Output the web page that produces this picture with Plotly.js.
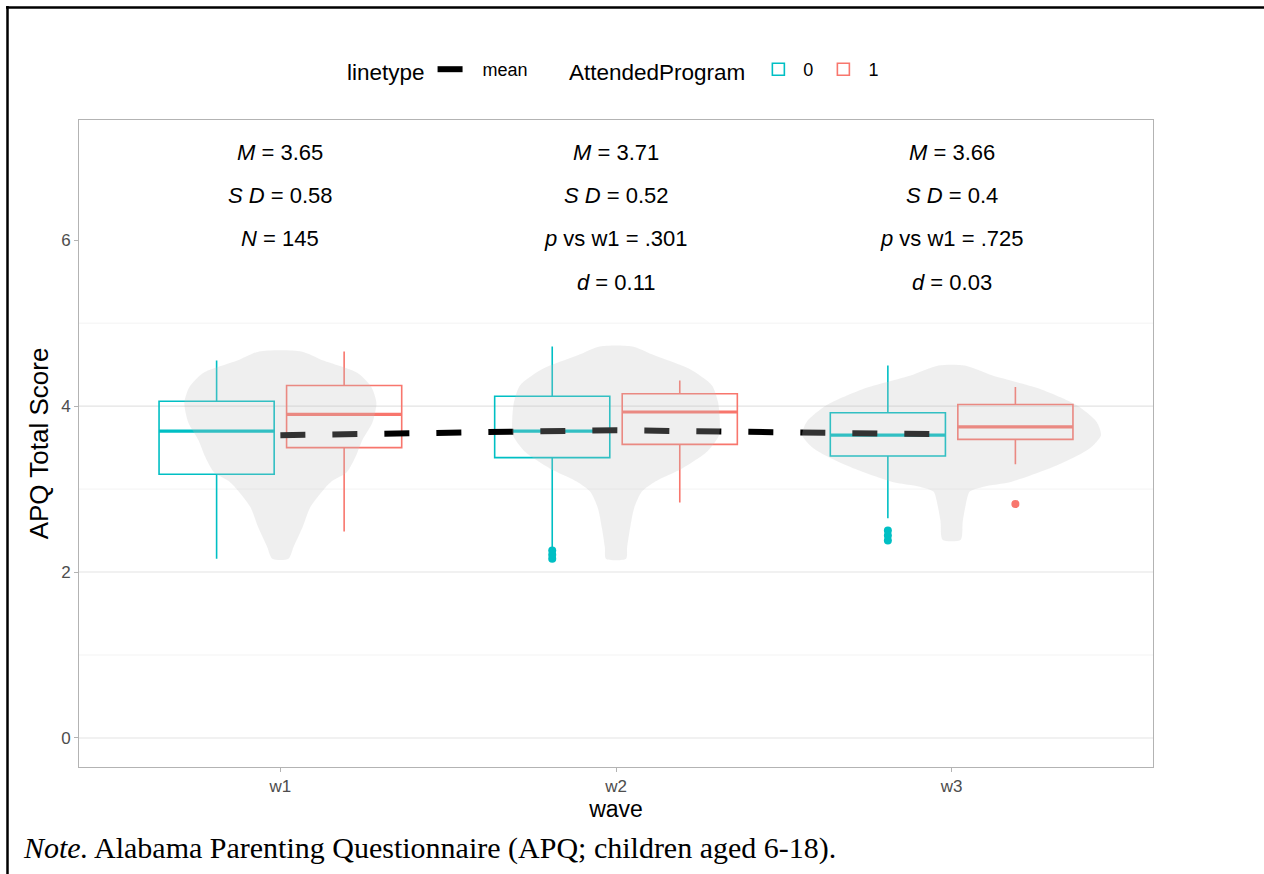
<!DOCTYPE html>
<html>
<head>
<meta charset="utf-8">
<script src="https://cdn.plot.ly/plotly-3.0.1.min.js"></script>
<style>
  html, body { margin: 0; padding: 0; background: #ffffff; }
  #chart { width: 1264px; height: 874px; }
</style>
</head>
<body>
<div id="chart"></div>
<script>
// ---------------- data ----------------
const waves = ['w1', 'w2', 'w3'];
const waveIndex = [1, 2, 3];
const groupNames = ['0', '1'];

// AttendedProgram = 0
const q1_g0     = [3.18, 3.38, 3.40];
const median_g0 = [3.70, 3.70, 3.65];
const q3_g0     = [4.06, 4.12, 3.92];
const lower_g0  = [2.16, 2.30, 2.65];
const upper_g0  = [4.55, 4.72, 4.49];
const outlierWave_g0 = [2, 2, 2, 3, 3, 3];
const outlierY_g0    = [2.26, 2.21, 2.16, 2.50, 2.44, 2.38];

// AttendedProgram = 1
const q1_g1     = [3.50, 3.54, 3.60];
const median_g1 = [3.90, 3.93, 3.75];
const q3_g1     = [4.25, 4.15, 4.02];
const lower_g1  = [2.49, 2.84, 3.30];
const upper_g1  = [4.66, 4.31, 4.23];
const outlierWave_g1 = [3];
const outlierY_g1    = [2.82];

// mean per wave
const means = [3.65, 3.71, 3.66];

// violin density profiles (score level, half-width in x units)
const violinY_w1 = [4.66, 4.55, 4.40, 4.23, 4.04, 3.80, 3.59, 3.39, 3.20, 3.10, 2.99, 2.78, 2.54, 2.30, 2.16];
const violinW_w1 = [0.063, 0.128, 0.230, 0.271, 0.286, 0.274, 0.244, 0.224, 0.197, 0.155, 0.128, 0.089, 0.066, 0.039, 0.024];
const violinY_w2 = [4.72, 4.61, 4.45, 4.25, 4.05, 3.85, 3.65, 3.45, 3.25, 3.09, 2.97, 2.77, 2.53, 2.29, 2.16];
const violinW_w2 = [0.048, 0.116, 0.218, 0.286, 0.304, 0.309, 0.307, 0.271, 0.197, 0.116, 0.077, 0.054, 0.042, 0.033, 0.030];
const violinY_w3 = [4.49, 4.37, 4.21, 4.01, 3.81, 3.65, 3.49, 3.29, 3.09, 3.03, 2.97, 2.81, 2.61, 2.39];
const violinW_w3 = [0.039, 0.122, 0.262, 0.373, 0.432, 0.445, 0.411, 0.316, 0.179, 0.095, 0.054, 0.042, 0.033, 0.027];

// annotation texts per wave
const statText_w1 = ['<i>M</i> = 3.65', '<i>S D</i> = 0.58', '<i>N</i> = 145'];
const statText_w2 = ['<i>M</i> = 3.71', '<i>S D</i> = 0.52', '<i>p</i> vs w1 = .301', '<i>d</i> = 0.11'];
const statText_w3 = ['<i>M</i> = 3.66', '<i>S D</i> = 0.4', '<i>p</i> vs w1 = .725', '<i>d</i> = 0.03'];
const statRowY = [7.06, 6.54, 6.02, 5.49];

const yTicks = [0, 2, 4, 6];
const majorGrid = [0, 2, 4];
const minorGrid = [1, 3, 5];

const noteText = '<i>Note.</i> Alabama Parenting Questionnaire (APQ; children aged 6-18).';

// ---------------- style ----------------
const COL0 = '#00BFC4';
const COL1 = '#F8766D';
const DODGE = 0.19;
const BOXW = 0.343;
const FONT = '"Liberation Sans", Arial, Helvetica, sans-serif';

const W = 1264, H = 874;
const M = { l: 79, r: 111, t: 120, b: 107 };
const pw = W - M.l - M.r, ph = H - M.t - M.b;
const px2x = p => (p - M.l) / pw;
const px2y = p => (H - M.b - p) / ph;

// ---------------- traces ----------------
const traces = [];

function boxTrace(name, color, offset, q1, med, q3, lo, hi) {
  return {
    type: 'box', name: name, legend: 'legend2',
    x: waveIndex.map(v => v + offset),
    q1: q1, median: med, q3: q3, lowerfence: lo, upperfence: hi,
    width: BOXW, whiskerwidth: 0, boxpoints: false,
    line: { color: color, width: 1.6 },
    fillcolor: 'rgba(255,255,255,0)',
    hoverinfo: 'skip'
  };
}
traces.push(boxTrace(groupNames[0], COL0, -DODGE, q1_g0, median_g0, q3_g0, lower_g0, upper_g0));
traces.push(boxTrace(groupNames[1], COL1, DODGE, q1_g1, median_g1, q3_g1, lower_g1, upper_g1));

// thicker median bars
function medianTrace(color, offset, med) {
  const xs = [], ys = [];
  waveIndex.forEach((w, i) => {
    xs.push(w + offset - BOXW / 2, w + offset + BOXW / 2, null);
    ys.push(med[i], med[i], null);
  });
  return { type: 'scatter', mode: 'lines', x: xs, y: ys, showlegend: false,
           line: { color: color, width: 3.2 }, hoverinfo: 'skip' };
}
traces.push(medianTrace(COL0, -DODGE, median_g0));
traces.push(medianTrace(COL1, DODGE, median_g1));

// outliers
traces.push({ type: 'scatter', mode: 'markers', showlegend: false, hoverinfo: 'skip',
  x: outlierWave_g0.map(v => v - DODGE), y: outlierY_g0,
  marker: { color: COL0, size: 8 } });
traces.push({ type: 'scatter', mode: 'markers', showlegend: false, hoverinfo: 'skip',
  x: outlierWave_g1.map(v => v + DODGE), y: outlierY_g1,
  marker: { color: COL1, size: 8 } });

// mean line
traces.push({ type: 'scatter', mode: 'lines', name: 'mean', legend: 'legend',
  x: waveIndex, y: means,
  line: { color: '#000000', width: 6, dash: '25px,27px' }, hoverinfo: 'skip' });

// violins (semi-transparent, on top)
function violinTrace(center, ys, ws) {
  const xs = [], yy = [];
  for (let i = 0; i < ys.length; i++) { xs.push(center + ws[i]); yy.push(ys[i]); }
  for (let i = ys.length - 1; i >= 0; i--) { xs.push(center - ws[i]); yy.push(ys[i]); }
  xs.push(xs[0]); yy.push(yy[0]);
  return { type: 'scatter', mode: 'lines', x: xs, y: yy, fill: 'toself',
    fillcolor: 'rgba(194,194,194,0.26)', line: { width: 0, shape: 'spline', smoothing: 0.7, color: 'rgba(0,0,0,0)' },
    showlegend: false, hoverinfo: 'skip' };
}
traces.push(violinTrace(waveIndex[0], violinY_w1, violinW_w1));
traces.push(violinTrace(waveIndex[1], violinY_w2, violinW_w2));
traces.push(violinTrace(waveIndex[2], violinY_w3, violinW_w3));

// ---------------- annotations ----------------
const annotations = [];
[statText_w1, statText_w2, statText_w3].forEach((arr, wi) => {
  arr.forEach((t, ri) => {
    annotations.push({ x: waveIndex[wi], y: statRowY[ri], xref: 'x', yref: 'y', text: t,
      showarrow: false, font: { family: FONT, size: 22, color: '#000000' } });
  });
});
annotations.push({ xref: 'paper', yref: 'paper', x: px2x(21), y: px2y(848), xanchor: 'left', yanchor: 'middle',
  text: noteText, showarrow: false,
  font: { family: '"Liberation Serif", "Times New Roman", serif', size: 30, color: '#000000' } });

// ---------------- shapes ----------------
const shapes = [];
majorGrid.forEach(v => shapes.push({ type: 'line', xref: 'paper', yref: 'y', x0: 0, x1: 1, y0: v, y1: v,
  layer: 'below', line: { color: '#E3E3E3', width: 1.1 } }));
minorGrid.forEach(v => shapes.push({ type: 'line', xref: 'paper', yref: 'y', x0: 0, x1: 1, y0: v, y1: v,
  layer: 'below', line: { color: '#F0F0F0', width: 0.8 } }));
// outer frame (top and left)
shapes.push({ type: 'line', xref: 'paper', yref: 'paper', x0: px2x(6), x1: px2x(1264), y0: px2y(7.5), y1: px2y(7.5),
  line: { color: '#000000', width: 2.5 } });
shapes.push({ type: 'line', xref: 'paper', yref: 'paper', x0: px2x(7.5), x1: px2x(7.5), y0: px2y(6), y1: px2y(874),
  line: { color: '#000000', width: 2.5 } });

// ---------------- layout ----------------
const layout = {
  width: W, height: H,
  margin: M,
  paper_bgcolor: '#ffffff', plot_bgcolor: '#ffffff',
  font: { family: FONT, color: '#000000' },
  showlegend: true,
  boxmode: 'overlay',
  xaxis: {
    range: [0.4, 3.6], tickvals: waveIndex, ticktext: waves,
    showgrid: false, zeroline: false,
    showline: true, mirror: true, linecolor: '#B3B3B3', linewidth: 1,
    ticks: 'outside', ticklen: 4, tickcolor: '#B3B3B3', tickwidth: 1,
    tickfont: { family: FONT, size: 17, color: '#4D4D4D' },
    title: { text: 'wave', font: { family: FONT, size: 23, color: '#000000' }, standoff: 2 }
  },
  yaxis: {
    range: [-0.35, 7.45], tickvals: yTicks,
    showgrid: false, zeroline: false,
    showline: true, mirror: true, linecolor: '#B3B3B3', linewidth: 1,
    ticks: 'outside', ticklen: 4, tickcolor: '#B3B3B3', tickwidth: 1,
    tickfont: { family: FONT, size: 17, color: '#4D4D4D' },
    title: { text: 'APQ Total Score', font: { family: FONT, size: 26, color: '#000000' }, standoff: 5 }
  },
  legend: {
    title: { text: 'linetype', font: { family: FONT, size: 22.5, color: '#000000' } },
    orientation: 'h', x: px2x(345), xanchor: 'left', y: px2y(71), yanchor: 'middle',
    itemwidth: 40,
    font: { family: FONT, size: 18, color: '#000000' }, bgcolor: 'rgba(0,0,0,0)'
  },
  legend2: {
    title: { text: 'AttendedProgram', font: { family: FONT, size: 22.5, color: '#000000' } },
    orientation: 'h', x: px2x(567), xanchor: 'left', y: px2y(71), yanchor: 'middle',
    itemwidth: 40,
    font: { family: FONT, size: 18, color: '#000000' }, bgcolor: 'rgba(0,0,0,0)'
  },
  annotations: annotations,
  shapes: shapes
};

Plotly.newPlot('chart', traces, layout, { staticPlot: true, displayModeBar: false });
</script>
</body>
</html>
